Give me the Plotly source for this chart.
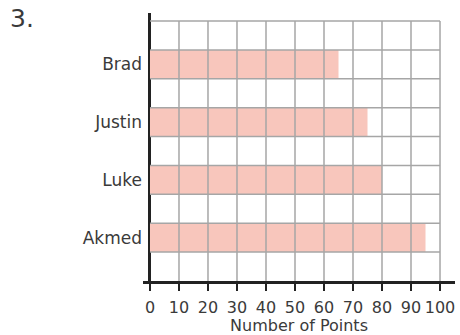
import plotly.graph_objects as go

# Points scored by each player (top to bottom as listed)
players = ["Brad", "Justin", "Luke", "Akmed"]
points = [65, 75, 80, 95]
x_ticks = [0, 10, 20, 30, 40, 50, 60, 70, 80, 90, 100]
x_title = "Number of Points"
label = "3."

# Each player's bar sits in every other grid row, starting from the bottom
n = len(players)
rows = 2 * n + 1
y_pos = [rows - 1.5 - 2 * i for i in range(n)]

bar_color = "#F8C6BC"
grid_color = "#A6A6A6"
text_color = "#3a3a3a"
font_family = "'DejaVu Sans', sans-serif"

fig = go.Figure()
fig.add_trace(go.Bar(
    x=points, y=y_pos, orientation="h", width=1.0,
    marker=dict(color=bar_color, line=dict(width=0)),
    hoverinfo="skip",
))

shapes = []
# vertical grid lines
for xv in x_ticks[1:]:
    shapes.append(dict(type="line", xref="x", yref="y", x0=xv, x1=xv, y0=0, y1=rows,
                       line=dict(color=grid_color, width=1.5), layer="above"))
# horizontal grid lines
for yv in range(1, rows + 1):
    shapes.append(dict(type="line", xref="x", yref="y", x0=0, x1=x_ticks[-1], y0=yv, y1=yv,
                       line=dict(color=grid_color, width=1.5), layer="above"))

# plot area in pixels, used to place the "3." heading
W, H = 460, 335
ml, mr, mt, mb = 143, 5, 13, 54
pw, ph = W - ml - mr, H - mt - mb

fig.update_layout(
    width=W, height=H,
    margin=dict(l=ml, r=mr, t=mt, b=mb),
    paper_bgcolor="white", plot_bgcolor="white",
    showlegend=False,
    shapes=shapes,
    font=dict(family=font_family, color=text_color, size=17),
    xaxis=dict(
        range=[-2.41, 105.17], tickvals=x_ticks, ticktext=[str(v) for v in x_ticks],
        tickangle=0, automargin=False, ticklabelstandoff=3,
        showgrid=False, zeroline=True, zerolinecolor="#222222", zerolinewidth=2.5,
        showline=True, linecolor="#222222", linewidth=2.5,
        ticks="outside", ticklen=7, tickwidth=1.5, tickcolor="#222222",
        tickfont=dict(size=16), title=dict(text=x_title, font=dict(size=16), standoff=4),
        fixedrange=True,
    ),
    yaxis=dict(
        range=[0, 9.28], tickvals=y_pos, ticktext=players, automargin=False,
        showgrid=False, zeroline=False, showline=False, ticks="",
        tickfont=dict(size=17), fixedrange=True,
    ),
    annotations=[dict(text=label, showarrow=False, xref="paper", yref="paper",
                      x=(8 - ml) / pw, y=1 + (mt - 18) / ph,
                      xanchor="left", yanchor="middle",
                      font=dict(size=25, color=text_color))],
)

fig.write_html("out.html")
